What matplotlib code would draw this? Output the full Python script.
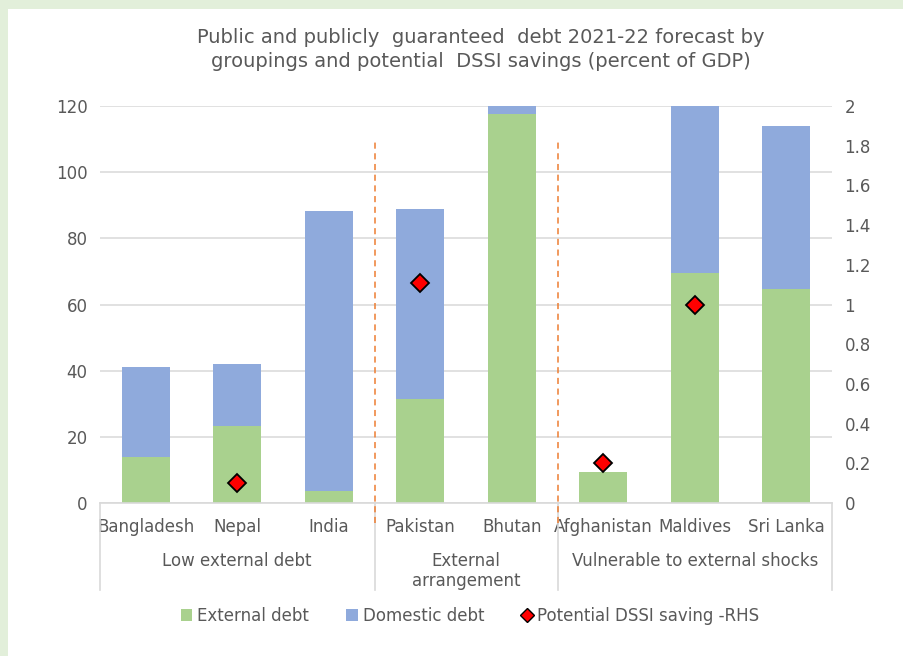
import numpy as np
import matplotlib
matplotlib.use('Agg')
import matplotlib.pyplot as plt
from matplotlib.patches import Patch, Rectangle
from matplotlib.lines import Line2D
from matplotlib.transforms import blended_transform_factory

# Data
countries = ['Bangladesh', 'Nepal', 'India', 'Pakistan', 'Bhutan',
             'Afghanistan', 'Maldives', 'Sri Lanka']
external_debt = [13.9, 23.3, 3.6, 31.4, 117.5, 9.4, 69.5, 64.7]
domestic_debt = [27.2, 18.7, 84.7, 57.5, 10.0, 0.0, 60.0, 49.3]
dssi_saving = [np.nan, 0.10, np.nan, 1.11, np.nan, 0.20, 1.00, np.nan]
groups = ['Low external debt', 'External\narrangement', 'Vulnerable to external shocks']
group_sizes = [3, 2, 3]
left_ticks = [0, 20, 40, 60, 80, 100, 120]
right_ticks = [0, 0.2, 0.4, 0.6, 0.8, 1, 1.2, 1.4, 1.6, 1.8, 2]

text_color = '#595959'
green = '#A9D18E'
blue = '#8FAADC'
grid_color = '#D9D9D9'
plt.rcParams['font.family'] = 'DejaVu Sans'

fig = plt.figure(figsize=(9.04, 6.56), dpi=100)
fig.patch.set_facecolor('#E2EFDA')
# white panel inside the green frame
fig.patches.append(Rectangle((8 / 904, 0), 1, 1 - 9 / 656, transform=fig.transFigure,
                             facecolor='white', edgecolor='none', zorder=-1))

ax = fig.add_axes([100 / 904, 1 - 503 / 656, 732 / 904, 397 / 656])
ax.set_facecolor('none')
x = np.arange(len(countries))
ax.bar(x, external_debt, width=0.53, color=green, zorder=2, label='External debt')
ax.bar(x, domestic_debt, width=0.53, bottom=external_debt, color=blue, zorder=2,
       label='Domestic debt')
ax.set_xlim(-0.5, len(countries) - 0.5)
ax.set_ylim(0, 120)
ax.set_yticks(left_ticks)
ax.yaxis.grid(True, color=grid_color, linewidth=1.1, zorder=0)
ax.set_axisbelow(True)
for s in ['top', 'left', 'right']:
    ax.spines[s].set_visible(False)
ax.spines['bottom'].set_color(grid_color)
ax.spines['bottom'].set_linewidth(1.2)
ax.tick_params(axis='both', length=0, labelcolor=text_color, labelsize=12)
ax.tick_params(axis='y', pad=9)
ax.set_xticks(x)
ax.set_xticklabels(countries)
ax.tick_params(axis='x', pad=11)

# right axis with DSSI savings
ax2 = ax.twinx()
ax2.plot(x, dssi_saving, linestyle='none', marker='D', markersize=9,
         markerfacecolor='#FF0000', markeredgecolor='black', markeredgewidth=1.3,
         zorder=5)
ax2.set_ylim(0, 2)
ax2.set_yticks(right_ticks)
ax2.set_yticklabels([f'{v:g}' for v in right_ticks])
ax2.tick_params(axis='y', length=0, labelcolor=text_color, labelsize=12, pad=9)
for s in ax2.spines.values():
    s.set_visible(False)

# multi-level category axis
trans = blended_transform_factory(ax.transData, ax.transAxes)
bounds = np.concatenate([[0], np.cumsum(group_sizes)]) - 0.5
for b in bounds:
    ax.plot([b, b], [0, -0.22], transform=trans, color=grid_color, linewidth=1.2,
            clip_on=False)
for i, g in enumerate(groups):
    mid = (bounds[i] + bounds[i + 1]) / 2
    ax.text(mid, -0.124, g, transform=trans, ha='center', va='top', color=text_color,
            fontsize=12, linespacing=1.15)

# dashed separators between groupings
for b in bounds[1:-1]:
    ax.plot([b, b], [-6, 109], color='#ED7D31', linestyle=(0, (4, 3)), linewidth=1.1,
            clip_on=False, zorder=3)

fig.text(0.532, 1 - 28 / 656,
         'Public and publicly  guaranteed  debt 2021-22 forecast by\n'
         'groupings and potential  DSSI savings (percent of GDP)',
         ha='center', va='top', color=text_color, fontsize=14, linespacing=1.33)

handles = [Patch(facecolor=green, edgecolor='none', label='External debt'),
           Patch(facecolor=blue, edgecolor='none', label='Domestic debt'),
           Line2D([], [], linestyle='none', marker='D', markersize=7,
                  markerfacecolor='#FF0000', markeredgecolor='black',
                  label='Potential DSSI saving -RHS')]
leg = fig.legend(handles=handles, loc='center', bbox_to_anchor=(0.52, 1 - 616 / 656),
                 ncol=3, frameon=False, fontsize=12, handlelength=0.7,
                 handleheight=0.7, handletextpad=0.3, columnspacing=2.2)
for t in leg.get_texts():
    t.set_color(text_color)

fig.savefig('out.png', dpi=100)
